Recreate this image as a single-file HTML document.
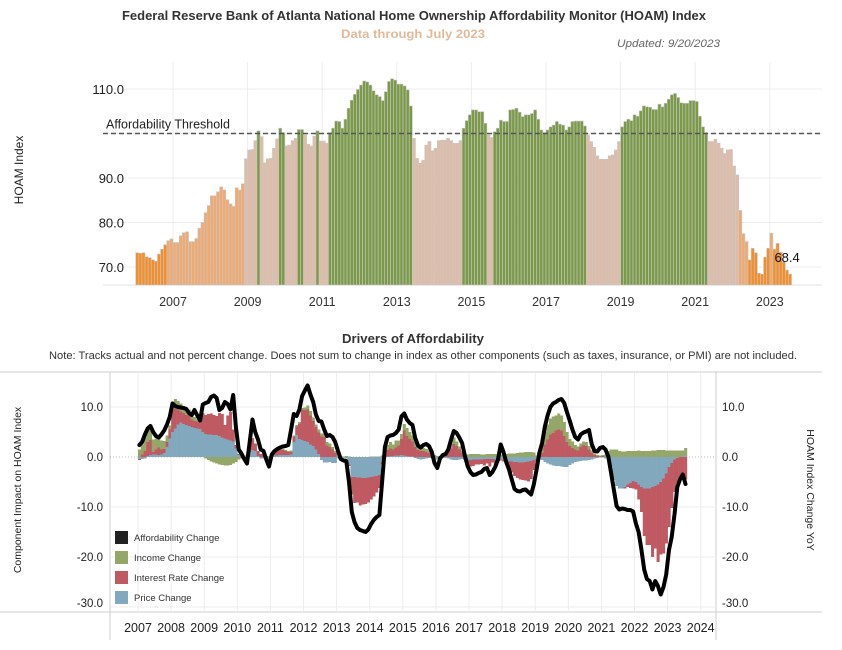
<!DOCTYPE html>
<html><head><meta charset="utf-8"><style>
html,body{margin:0;padding:0;background:#fff;}
svg{display:block;font-family:"Liberation Sans",sans-serif;}
</style></head><body>
<svg id="chart" width="842" height="650" viewBox="0 0 842 650">
<text x="414" y="20" text-anchor="middle" font-size="12.5" font-weight="bold" fill="#333" textLength="584" lengthAdjust="spacingAndGlyphs">Federal Reserve Bank of Atlanta National Home Ownership Affordability Monitor (HOAM) Index</text>
<text x="413" y="38" text-anchor="middle" font-size="12" font-weight="bold" fill="#e3b99a" textLength="144" lengthAdjust="spacingAndGlyphs">Data through July 2023</text>
<text x="720" y="47" text-anchor="end" font-size="11" font-style="italic" fill="#666" textLength="103" lengthAdjust="spacingAndGlyphs">Updated: 9/20/2023</text>
<g id="top"></g>
<text x="413" y="343" text-anchor="middle" font-size="12.5" font-weight="bold" fill="#333" textLength="142" lengthAdjust="spacingAndGlyphs">Drivers of Affordability</text>
<text x="423" y="359" text-anchor="middle" font-size="11" fill="#333" textLength="748" lengthAdjust="spacingAndGlyphs">Note: Tracks actual and not percent change. Does not sum to change in index as other components (such as taxes, insurance, or PMI) are not included.</text>
<g id="bot"></g>
</svg>
<script>
// ---------- TOP CHART DATA (monthly from Jan 2006) ----------
const hoamStartYear = 2006;
const hoamValues = [
73.2,73.1,73.2,72.3,72.1,71.6,71.3,72.9,74.0,75.0,75.9,76.3,
75.5,75.5,77.0,77.7,77.9,75.7,75.7,76.4,78.7,80.0,82.2,83.8,
86.0,86.0,86.9,88.0,87.3,85.1,84.2,83.6,87.8,87.3,88.7,94.3,
96.3,96.4,98.4,100.6,99.3,93.4,94.3,94.4,96.7,98.8,101.2,100.2,
97.2,97.4,98.4,98.9,100.9,100.9,99.7,97.6,97.2,99.4,100.6,98.3,
98.3,97.8,100.2,101.2,102.8,102.7,101.2,103.2,105.7,107.5,108.8,109.9,
110.9,111.8,111.6,110.9,109.6,108.7,108.3,107.4,109.4,111.7,112.3,112.0,
111.1,111.1,110.7,109.8,106.2,98.9,94.4,93.3,94.0,97.4,98.2,96.1,
96.7,98.4,98.5,98.5,98.9,98.4,97.8,97.8,98.4,101.2,102.9,104.2,
105.3,105.3,104.9,104.9,102.3,99.7,99.1,100.4,101.2,103.0,102.7,102.7,
105.3,105.4,105.7,104.8,103.8,104.2,104.2,104.5,105.3,103.2,100.8,100.2,
100.8,101.5,101.9,102.7,102.1,101.9,100.8,101.5,102.7,102.8,102.8,102.8,
101.7,99.7,98.2,96.9,95.0,94.2,94.2,94.2,95.0,95.2,96.3,98.2,
101.5,102.7,103.2,102.9,104.2,103.9,105.1,106.2,106.0,105.9,105.4,105.4,
106.6,106.0,106.8,107.7,108.7,109.0,108.1,106.9,106.8,106.8,107.4,107.4,
107.2,103.9,101.5,100.2,98.2,98.2,98.7,97.8,96.7,95.5,96.3,96.4,
92.7,90.7,82.7,77.5,75.7,71.6,74.2,73.2,68.6,68.4,72.2,74.2,
77.6,74.0,75.3,73.3,71.2,69.3,68.4];
const hoamTicks = [70,80,90,110];
const hoamGrid = [70,80,90,100,110];
const hoamYearLabels = [2007,2009,2011,2013,2015,2017,2019,2021,2023];
const threshold = 100;

// ---------- BOTTOM CHART DATA (monthly from Jan 2007) ----------
const drvStartYear = 2007;
const priceChange = [
-0.4,-0.4,-0.3,0.2,0.4,0.5,0.5,0.4,0.5,0.8,2.0,3.7,
5.0,5.7,6.5,6.9,6.6,6.4,6.2,6.0,5.8,5.7,5.6,5.0,
4.6,4.5,4.5,4.4,4.4,4.2,3.9,3.7,3.5,3.3,3.1,1.7,
0.4,0.0,0.0,0.0,1.0,1.4,1.2,0.2,-0.3,-0.3,-0.3,-0.3,
0.1,0.3,0.3,0.4,0.4,0.4,0.4,0.5,3.0,4.4,3.6,3.4,
3.2,3.0,2.5,2.2,1.5,0.6,-0.6,-1.1,-1.1,-1.0,-1.2,-1.2,
-0.3,-0.2,-0.2,-0.3,-1.5,-4.0,-4.0,-4.1,-4.1,-4.2,-4.2,-4.1,
-4.0,-3.9,-3.8,-3.6,-1.0,0.0,0.1,0.2,0.2,0.3,0.3,0.4,
0.3,0.2,0.1,0.1,-0.2,-0.4,-0.5,-0.4,-0.3,-0.2,-0.2,-0.4,
-0.5,-0.4,-0.2,-0.2,-0.3,-0.5,-0.6,-0.6,-0.5,-0.4,-0.3,-0.5,
-0.6,-0.5,-0.5,-0.5,-0.5,-0.4,-0.4,-0.4,-0.4,-0.5,-0.5,-0.5,
-0.6,-0.7,-0.8,-0.9,-1.0,-1.0,-1.1,-1.1,-1.0,-0.9,-0.8,-0.6,
-0.4,-0.3,-0.6,-1.0,-1.3,-1.5,-1.7,-1.8,-1.8,-1.9,-2.0,-2.0,
-1.6,-1.3,-1.0,-0.9,-0.8,-0.7,-0.7,-0.6,-0.5,-0.3,-0.2,-0.1,
-0.1,-0.3,-0.6,-2.0,-4.6,-5.8,-6.3,-6.3,-6.0,-5.5,-5.2,-4.8,
-5.0,-5.5,-6.0,-6.3,-6.3,-6.3,-6.0,-5.8,-5.5,-5.0,-4.3,-3.3,
-2.0,-1.2,-0.5,-0.2,0.0,0.1,0.3];
const rateChange = [
-0.2,0.5,1.2,2.8,3.0,0.5,1.0,1.5,1.0,0.8,1.0,1.8,
4.5,4.0,3.0,2.2,2.2,2.0,2.4,1.5,1.4,1.4,1.4,3.7,
3.8,4.1,4.2,4.0,3.8,4.6,4.7,2.7,4.8,5.7,2.4,0.7,
0.2,0.1,0.0,0.3,1.5,2.3,1.5,1.0,0.6,0.5,0.2,0.1,
0.3,0.7,1.0,1.0,1.0,0.8,0.6,0.5,1.1,1.7,3.0,6.0,
6.2,6.5,5.8,5.0,4.5,4.3,4.1,4.0,2.3,2.0,1.5,0.8,
0.0,0.0,0.0,0.0,-0.3,-3.5,-5.2,-5.0,-5.6,-5.3,-5.2,-5.0,
-4.5,-4.0,-3.3,-2.6,-0.5,0.5,1.3,1.5,1.3,1.6,2.0,3.2,
5.0,4.0,3.5,3.0,2.0,1.4,1.2,1.2,1.0,0.8,0.3,0.1,
0.0,0.0,0.2,0.5,1.2,1.7,2.6,2.2,1.5,0.8,-0.3,-0.8,
-1.3,-1.3,-1.0,-1.0,-0.9,-1.3,-0.9,-1.5,-0.7,-1.1,-0.3,-0.2,
-0.3,-0.8,-1.5,-2.2,-2.8,-3.2,-3.4,-3.5,-3.7,-4.0,-3.6,-2.0,
-0.5,0.0,0.8,2.5,3.5,4.5,4.8,5.3,5.5,5.3,4.2,3.0,
2.2,1.8,1.5,1.3,2.0,2.4,2.2,1.5,0.8,0.4,0.2,0.1,
0.2,0.0,0.0,0.0,0.0,0.0,0.0,0.0,-0.3,-0.5,-1.0,-1.5,
-1.5,-3.0,-5.0,-9.5,-11.3,-11.3,-14.0,-12.5,-15.5,-14.5,-15.0,-14.0,
-12.0,-9.0,-6.5,-5.0,-4.0,-3.5,-4.5];
const incomeChange = [
1.5,2.0,2.6,3.0,3.0,2.5,2.2,2.0,1.8,1.6,1.3,0.8,
1.5,1.9,1.7,1.6,1.4,1.4,0.9,1.5,0.8,0.4,0.2,0.1,
-0.3,-0.6,-0.9,-1.1,-1.3,-1.5,-1.6,-1.7,-1.7,-1.6,-1.3,-1.0,
-0.5,-0.3,-0.2,0.1,0.1,0.1,0.0,0.0,0.0,0.0,0.0,0.0,
0.1,0.2,0.2,0.2,0.2,0.2,0.2,0.3,0.2,0.3,0.4,0.4,
0.5,0.8,0.9,0.7,0.5,0.6,0.6,0.7,0.7,0.7,0.5,0.4,
0.1,0.2,0.1,0.2,0.1,0.0,0.0,0.0,0.0,0.0,0.0,0.0,
0.1,0.1,0.1,0.1,0.3,0.7,1.0,1.3,1.0,1.4,1.0,1.0,
1.3,1.6,1.4,1.2,1.0,0.8,0.7,0.6,0.6,0.5,0.4,0.3,
0.2,0.2,0.3,0.3,0.6,1.0,1.3,0.9,0.6,0.4,0.4,0.5,
0.6,0.6,0.6,0.6,0.5,0.5,0.6,0.6,0.6,0.6,0.5,0.5,
0.6,0.6,0.7,0.7,0.7,0.8,0.9,0.9,1.0,1.0,1.0,0.9,
0.3,0.8,1.8,2.5,3.0,3.2,3.3,3.0,3.2,3.0,2.8,2.0,
1.4,1.3,0.9,0.8,0.7,0.7,0.8,0.7,0.5,0.3,0.2,0.2,
0.2,0.5,1.2,1.5,1.5,1.5,1.2,1.1,1.1,1.2,1.2,1.2,
1.2,1.3,1.2,1.2,1.2,1.2,1.3,1.3,1.4,1.4,1.4,1.3,
1.3,1.3,1.3,1.3,1.3,1.2,1.5];
const affordChange = [
2.4,3.0,4.5,5.7,6.2,5.0,4.2,3.9,4.5,5.3,6.5,8.0,
10.7,10.2,10.0,9.9,9.8,9.6,8.8,8.4,9.4,8.3,7.3,10.5,
10.8,11.0,12.0,12.3,11.8,9.4,9.8,11.0,10.6,9.5,12.4,6.0,
1.5,0.7,-0.4,-1.3,3.0,7.5,5.0,3.5,1.5,1.2,-0.5,-1.9,
0.5,1.2,1.6,1.9,2.1,2.2,2.4,5.5,8.6,8.2,9.5,12.2,
13.3,14.3,12.5,11.0,8.5,7.2,7.1,5.5,4.2,4.4,4.0,3.0,
1.2,-0.4,-0.7,-0.8,-5.0,-11.0,-13.0,-14.2,-14.6,-14.8,-15.0,-14.5,
-13.4,-12.6,-12.0,-11.6,-5.0,2.0,4.0,4.3,4.4,4.8,5.5,8.1,
8.7,7.5,6.8,6.4,3.8,2.3,1.9,2.4,2.6,2.2,1.0,-1.2,
-2.2,-0.3,0.4,0.6,1.5,3.5,5.2,4.8,3.9,2.8,0.2,-1.8,
-3.0,-3.6,-3.5,-3.2,-3.0,-2.4,-2.2,-3.6,-3.0,-2.0,-0.5,2.5,
1.0,-1.0,-2.5,-4.5,-6.4,-6.8,-6.9,-6.6,-6.5,-7.0,-7.5,-5.5,
-2.5,0.8,2.8,6.1,8.3,10.0,10.7,11.0,11.4,11.6,10.8,9.0,
7.3,5.5,4.0,3.5,4.5,4.9,5.1,5.4,2.6,1.2,1.1,1.8,
2.0,1.5,0.1,-3.2,-6.5,-9.8,-10.5,-10.3,-10.4,-10.6,-10.6,-10.9,
-13.3,-15.0,-18.5,-22.5,-24.4,-24.8,-26.5,-24.8,-25.8,-27.5,-26.0,-23.5,
-18.6,-16.0,-11.5,-6.0,-4.5,-3.5,-5.4];
const drvTicks = [10,0,-10,-20,-30];
const drvYearLabels = [2007,2008,2009,2010,2011,2012,2013,2014,2015,2016,2017,2018,2019,2020,2021,2022,2023,2024];
const legendLabels = ["Affordability Change","Income Change","Interest Rate Change","Price Change"];

const NS = "http://www.w3.org/2000/svg";
function mk(parent, tag, attrs, text){
  const e = document.createElementNS(NS, tag);
  for (const k in attrs) e.setAttribute(k, attrs[k]);
  if (text !== undefined) e.textContent = text;
  parent.appendChild(e);
  return e;
}

// ---------- TOP CHART ----------
(function(){
  const g = document.getElementById('top');
  const yS = v => 133.5 - (v - 100) * 4.45;
  const xS = t => 173 + (t - 2007) * 37.3;
  const base = 285;
  hoamYearLabels.forEach(y => {
    const l = mk(g,'line',{x1:xS(y),x2:xS(y),y1:62,y2:base,stroke:'#ececec','stroke-width':1});
    
    
    const t = mk(g,'text',{x:xS(y),y:306,'text-anchor':'middle','font-size':12.5,fill:'#333'}, String(y));
    
    
  });
  hoamGrid.forEach(v => {
    const l = mk(g,'line',{x1:103,x2:822,y1:yS(v),y2:yS(v),stroke:'#ececec','stroke-width':1});
    
    
  });
  hoamTicks.forEach(v => {
    const t = mk(g,'text',{x:124,y:yS(v)+5,'text-anchor':'end','font-size':13,fill:'#222'}, v.toFixed(1));
    
    
  });
  const ax = mk(g,'line',{x1:103,x2:822,y1:base,y2:base,stroke:'#e0e0e0','stroke-width':1});
  
  
  const yt = mk(g,'text',{x:0,y:0,transform:'translate(23,170) rotate(-90)','text-anchor':'middle','font-size':12,fill:'#222'},'HOAM Index');
  
  
  const mw = 37.3/12;
  function col(v){
    if (v >= 100) return '#7a9a48';
    if (v >= 90) return '#dfbca8';
    if (v >= 75.5) return '#eeaa72';
    return '#f28e2b';
  }
  hoamValues.forEach((v,i) => {
    const x = xS(hoamStartYear + i/12);
    const r = mk(g,'rect',{x:x, y:yS(v), width:mw, height:base-yS(v), fill:col(v), stroke:'#c8c8c8','stroke-width':0.6});
    
    
  });
  const th = mk(g,'line',{x1:103,x2:822,y1:yS(threshold),y2:yS(threshold),stroke:'#555','stroke-width':1.5,'stroke-dasharray':'5,3'});
  
  
  const tl = mk(g,'text',{x:106,y:yS(threshold)-5,'font-size':12.5,fill:'#222'},'Affordability Threshold');
  
  
  const last = hoamValues[hoamValues.length-1];
  const lx = xS(hoamStartYear + (hoamValues.length-1)/12);
  const ll = mk(g,'text',{x:lx-14,y:yS(last)-12,'font-size':13,fill:'#111'}, last.toFixed(1));
  
  
})();

// ---------- BOTTOM CHART ----------
(function(){
  const g = document.getElementById('bot');
  const yS = v => 457 - v * 5;
  const xS = t => 138 + (t - 2007) * 33.1;
  const mw = 33.1/12;
  mk(g,'line',{x1:0,x2:822,y1:372,y2:372,stroke:'#ccc','stroke-width':1});
  mk(g,'line',{x1:0,x2:822,y1:612,y2:612,stroke:'#ccc','stroke-width':1});
  mk(g,'line',{x1:110,x2:110,y1:372,y2:640,stroke:'#ccc','stroke-width':1});
  mk(g,'line',{x1:716,x2:716,y1:372,y2:640,stroke:'#ccc','stroke-width':1});
  drvYearLabels.forEach(y => {
    const l = mk(g,'line',{x1:xS(y),x2:xS(y),y1:373,y2:612,stroke:'#ededed','stroke-width':1});
    
    
    const t = mk(g,'text',{x:xS(y),y:632,'text-anchor':'middle','font-size':12.5,fill:'#222'}, String(y));
    
    
  });
  drvTicks.forEach(v => {
    if (v !== 0) {
      const l = mk(g,'line',{x1:110,x2:716,y1:yS(v),y2:yS(v),stroke:'#ededed','stroke-width':1});
      
      
    }
    const yy = Math.min(yS(v), 603) + 4;
    const t = mk(g,'text',{x:103,y:yy,'text-anchor':'end','font-size':11.5,fill:'#222'}, v.toFixed(1));
    
    
    const t2 = mk(g,'text',{x:722,y:yy,'font-size':11.5,fill:'#222'}, v.toFixed(1));
    
    
  });
  const z = mk(g,'line',{x1:110,x2:716,y1:yS(0),y2:yS(0),stroke:'#bbb','stroke-width':1,'stroke-dasharray':'1,2'});
  
  
  const lt = mk(g,'text',{x:0,y:0,transform:'translate(21,490) rotate(-90)','text-anchor':'middle','font-size':10.5,fill:'#222'},'Component Impact on HOAM Index');
  
  
  const rt = mk(g,'text',{x:0,y:0,transform:'translate(807,490) rotate(90)','text-anchor':'middle','font-size':10.5,fill:'#222'},'HOAM Index Change YoY');
  
  

  const series = [
    {vals:priceChange, color:'#82a8bd', name:'price-change-bar'},
    {vals:rateChange, color:'#c05a62', name:'interest-rate-change-bar'},
    {vals:incomeChange, color:'#94a768', name:'income-change-bar'}
  ];
  const n = priceChange.length;
  for (let i=0;i<n;i++){
    let pos=0, neg=0;
    const x = xS(drvStartYear + i/12);
    series.forEach(s => {
      const v = s.vals[i];
      let y0, y1;
      if (v >= 0){ y0 = pos; y1 = pos + v; pos = y1; }
      else { y0 = neg; y1 = neg + v; neg = y1; }
      const top = Math.min(yS(y0), yS(y1));
      const h = Math.abs(yS(y1) - yS(y0));
      const r = mk(g,'rect',{x:x, y:top, width:mw+0.3, height:h, fill:s.color});
      
      
    });
  }
  const pts = affordChange.map((v,i) => (xS(drvStartYear + i/12) + mw/2).toFixed(1) + ',' + yS(v).toFixed(1)).join(' ');
  const line = mk(g,'polyline',{points:pts, fill:'none', stroke:'#000','stroke-width':4,'stroke-linejoin':'round','stroke-linecap':'round'});
  
  

  const lcol = ['#222','#94a768','#c05a62','#82a8bd'];
  legendLabels.forEach((lab,k) => {
    const y = 531 + k*20;
    const sw = mk(g,'rect',{x:115,y:y,width:13,height:13,fill:lcol[k]});
    
    
    const t = mk(g,'text',{x:134,y:y+10,'font-size':9.5,fill:'#333'}, lab);
    
    
  });
})();
</script>
</body></html>
